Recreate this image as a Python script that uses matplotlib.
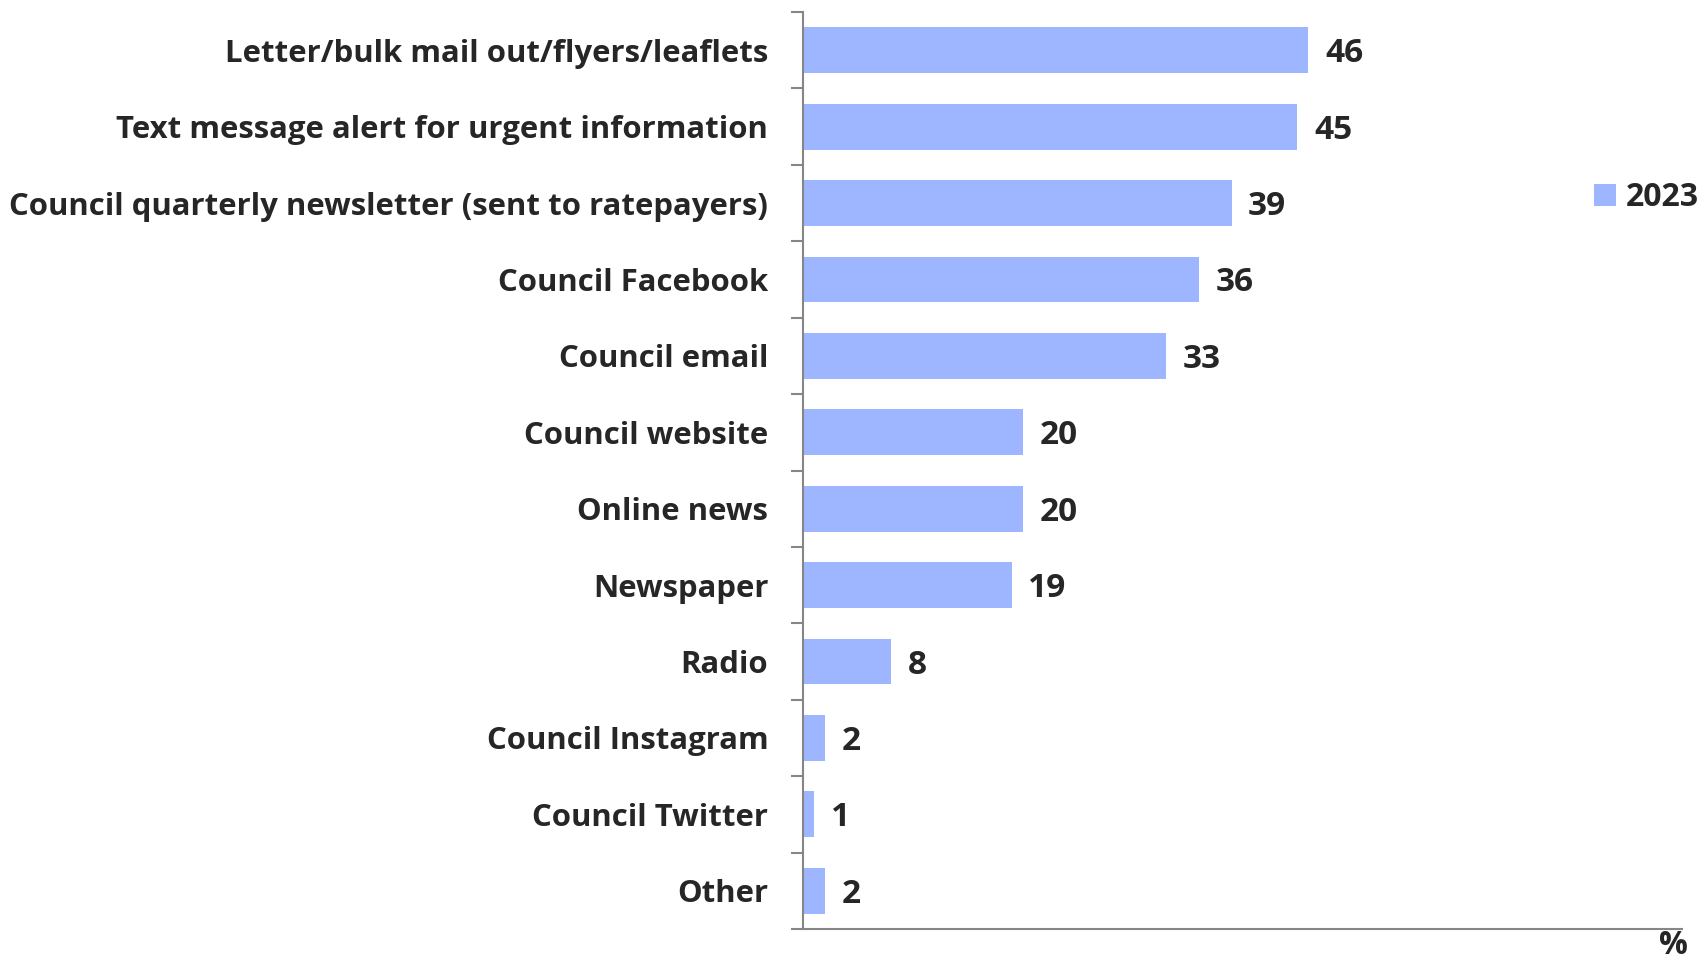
import matplotlib
matplotlib.use("Agg")
import matplotlib.pyplot as plt
import numpy as np
from matplotlib.ticker import FixedLocator

categories = [
    "Letter/bulk mail out/flyers/leaflets",
    "Text message alert for urgent information",
    "Council quarterly newsletter (sent to ratepayers)",
    "Council Facebook",
    "Council email",
    "Council website",
    "Online news",
    "Newspaper",
    "Radio",
    "Council Instagram",
    "Council Twitter",
    "Other",
]
values_2023 = [46, 45, 39, 36, 33, 20, 20, 19, 8, 2, 1, 2]
series_name = "2023"

plt.rcParams['font.family'] = ['Open Sans', 'DejaVu Sans']
W, H = 1704, 964
fig = plt.figure(figsize=(W / 100, H / 100), dpi=100)
ax = fig.add_axes([803 / W, 1 - 929 / H, (1682 - 803) / W, (929 - 12) / H])

bar_color = "#9DB6FF"
text_color = "#262626"
axis_color = "#868686"
fs = 22.4
fs_num = 24

n = len(categories)
y = np.arange(n)
ax.barh(y, values_2023, height=0.6, color=bar_color, label=series_name)
ax.set_ylim(n - 0.5, -0.5)
ax.set_xlim(0, 80)

for yi, v in zip(y, values_2023):
    ax.annotate(f"{v}", (v, yi), xytext=(12, -2.5), textcoords="offset points",
                ha="left", va="center", fontsize=fs_num, fontweight="bold", color=text_color)

ax.set_yticks(y)
ax.set_yticklabels(categories, fontsize=fs, fontweight="bold", color=text_color)
ax.tick_params(axis="y", which="major", length=0, pad=25)
ax.yaxis.set_minor_locator(FixedLocator(np.arange(-0.5, n, 1.0)))
ax.tick_params(axis="y", which="minor", length=9, width=1.5, color=axis_color, direction="out")
ax.set_xticks([])

for s in ["top", "right"]:
    ax.spines[s].set_visible(False)
for s in ["left", "bottom"]:
    ax.spines[s].set_color(axis_color)
    ax.spines[s].set_linewidth(1.5)

fig.text(1673 / W, 1 - 946 / H, "%", ha="center", va="center", fontsize=23,
         fontweight="bold", color=text_color)

leg = fig.legend(loc="center left", bbox_to_anchor=(1594 / W, 1 - 198 / H), frameon=False,
                 fontsize=23, handlelength=0.7, handleheight=0.7, handletextpad=0.3,
                 borderaxespad=0, borderpad=0)
for t in leg.get_texts():
    t.set_fontweight("bold")
    t.set_color(text_color)

fig.savefig("out.png", dpi=100, facecolor="white")
